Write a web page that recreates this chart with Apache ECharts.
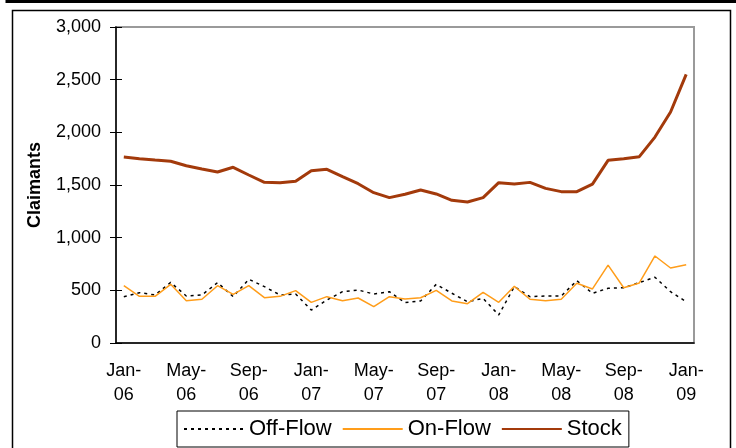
<!DOCTYPE html>
<html>
<head>
<meta charset="utf-8">
<script src="https://cdn.jsdelivr.net/npm/echarts@6/dist/echarts.min.js"></script>
<style>
  html, body { margin: 0; padding: 0; background: #fff; }
  #chart { width: 736px; height: 448px; }
</style>
</head>
<body>
<div id="chart"></div>
<script>
  // monthly, Jan-06 .. Jan-09
  var months = [
    'Jan-06', 'Feb-06', 'Mar-06', 'Apr-06', 'May-06', 'Jun-06', 'Jul-06', 'Aug-06', 'Sep-06', 'Oct-06', 'Nov-06', 'Dec-06',
    'Jan-07', 'Feb-07', 'Mar-07', 'Apr-07', 'May-07', 'Jun-07', 'Jul-07', 'Aug-07', 'Sep-07', 'Oct-07', 'Nov-07', 'Dec-07',
    'Jan-08', 'Feb-08', 'Mar-08', 'Apr-08', 'May-08', 'Jun-08', 'Jul-08', 'Aug-08', 'Sep-08', 'Oct-08', 'Nov-08', 'Dec-08',
    'Jan-09'
  ];
  var offFlow = [440, 478, 456, 575, 446, 456, 573, 440, 605, 535, 456, 465,
    313, 408, 487, 503, 465, 487, 383, 399, 557, 472, 392, 424,
    266, 535, 440, 446, 446, 592, 472, 519, 525, 573, 624, 487, 392];
  var onFlow = [544, 443, 443, 557, 402, 415, 544, 462, 544, 430, 443, 497,
    386, 440, 402, 427, 345, 440, 418, 430, 500, 399, 373, 481,
    386, 538, 415, 402, 415, 567, 513, 740, 525, 570, 826, 712, 743];
  var stock = [1765, 1750, 1737, 1725, 1683, 1652, 1623, 1668, 1595, 1525, 1522, 1535,
    1636, 1649, 1579, 1512, 1427, 1380, 1412, 1452, 1415, 1355, 1339, 1380,
    1522, 1509, 1525, 1468, 1437, 1437, 1509, 1734, 1750, 1769, 1955, 2193, 2550];

  var chart = echarts.init(document.getElementById('chart'));
  var font = 'Liberation Sans, Arial, sans-serif';

  chart.setOption({
    animation: false,
    textStyle: {fontFamily: font, color: '#000'},
    graphic: [
      {
        type: 'rect',
        shape: {x: 12.5, y: 10.5, width: 718, height: 460},
        style: {fill: 'none', stroke: '#000', lineWidth: 1.5},
        silent: true
      },
      {
        type: 'polyline',
        shape: {points: [[7, -4], [7, 1.5], [740, 1.5]]},
        style: {fill: 'none', stroke: '#000', lineWidth: 3},
        silent: true
      }
    ],
    grid: {
      left: 116,
      right: 42,
      top: 27,
      bottom: 105,
      show: true,
      borderColor: '#9a9a9a',
      borderWidth: 2
    },
    legend: {
      left: 177,
      top: 411,
      padding: [7, 7, 7, 6],
      itemWidth: 60,
      itemHeight: 14,
      itemGap: 10,
      borderColor: '#000',
      borderWidth: 1,
      backgroundColor: '#fff',
      itemStyle: {opacity: 0},
      textStyle: {fontSize: 22, fontFamily: font, color: '#000'},
      data: ['Off-Flow', 'On-Flow', 'Stock']
    },
    xAxis: {
      type: 'category',
      data: months,
      boundaryGap: true,
      axisLine: {lineStyle: {color: '#000', width: 1.5}},
      axisTick: {interval: 0, length: 5, lineStyle: {color: '#000'}},
      axisLabel: {
        interval: 3,
        margin: 16,
        fontSize: 18,
        lineHeight: 24,
        color: '#000',
        formatter: function (v) {
          var p = v.split('-');
          return p[0] + '-\n' + p[1];
        }
      }
    },
    yAxis: [
      {
        type: 'value',
        min: 0,
        max: 3000,
        interval: 500,
        name: 'Claimants',
        nameLocation: 'middle',
        nameRotate: 90,
        nameGap: 72,
        nameTextStyle: {fontSize: 18, fontWeight: 'bold', color: '#000'},
        splitLine: {show: false},
        axisLine: {show: true, lineStyle: {color: '#000', width: 1.5}},
        axisTick: {show: true, length: 6, lineStyle: {color: '#000'}},
        axisLabel: {
          margin: 15,
          fontSize: 18,
          color: '#000',
          formatter: function (v) {
            return v.toLocaleString('en-US');
          }
        }
      },
      {
        // inner half of the crossing ticks
        type: 'value',
        position: 'left',
        min: 0,
        max: 3000,
        interval: 500,
        splitLine: {show: false},
        axisLine: {show: false},
        axisLabel: {show: false},
        axisTick: {show: true, inside: true, length: 6, lineStyle: {color: '#000'}}
      }
    ],
    series: [
      {
        name: 'Off-Flow',
        type: 'line',
        data: offFlow,
        symbol: 'none',
        showSymbol: false,
        lineStyle: {color: '#000', width: 1.5, type: [3, 4]},
        itemStyle: {color: '#000'}
      },
      {
        name: 'On-Flow',
        type: 'line',
        data: onFlow,
        symbol: 'none',
        showSymbol: false,
        lineStyle: {color: '#ff9d1a', width: 1.5},
        itemStyle: {color: '#ff9d1a'}
      },
      {
        name: 'Stock',
        type: 'line',
        data: stock,
        symbol: 'none',
        showSymbol: false,
        lineStyle: {color: '#a33a0b', width: 3},
        itemStyle: {color: '#a33a0b'}
      }
    ]
  });
</script>
</body>
</html>
